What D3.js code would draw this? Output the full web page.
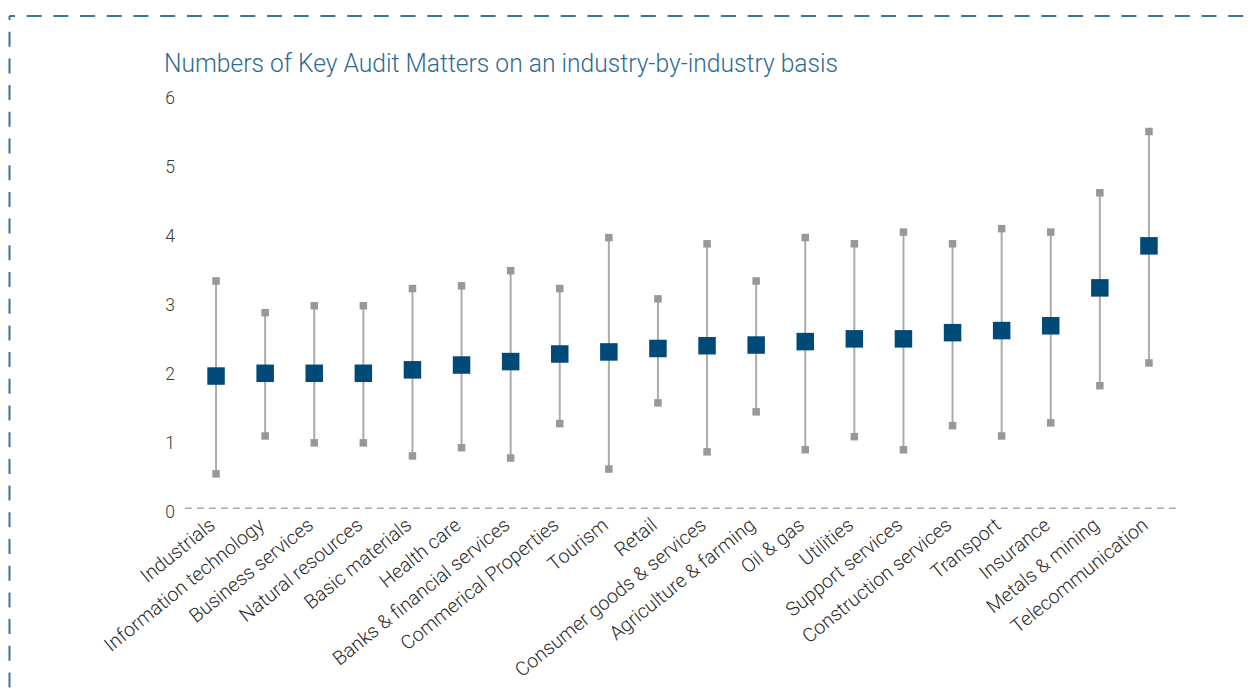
<!DOCTYPE html>
<html>
<head>
<meta charset="utf-8">
<script src="https://cdn.jsdelivr.net/npm/d3@7/dist/d3.min.js"></script>
<style>
  html, body { margin: 0; padding: 0; background: #ffffff; }
  svg { display: block; }
  text { font-family: Roboto, "Noto Sans", sans-serif; }
</style>
</head>
<body>
<svg id="chart" width="1254" height="693"></svg>
<script>
// Industries, ordered by average number of KAMs
const industries = [
  "Industrials", "Information technology", "Business services", "Natural resources",
  "Basic materials", "Health care", "Banks & financial services", "Commerical Properties",
  "Tourism", "Retail", "Consumer goods & services", "Agriculture & farming",
  "Oil & gas", "Utilities", "Support services", "Construction services",
  "Transport", "Insurance", "Metals & mining", "Telecommunication"
];
// Average number of key audit matters per report
const averageKam = [1.92, 1.96, 1.96, 1.96, 2.01, 2.08, 2.13, 2.24, 2.27, 2.32,
                    2.36, 2.37, 2.42, 2.46, 2.46, 2.55, 2.58, 2.65, 3.20, 3.81];
// Upper and lower ends of each range
const upperKam = [3.30, 2.84, 2.94, 2.94, 3.19, 3.23, 3.45, 3.19, 3.93, 3.04,
                  3.84, 3.30, 3.93, 3.84, 4.01, 3.84, 4.06, 4.01, 4.58, 5.47];
const lowerKam = [0.50, 1.05, 0.95, 0.95, 0.76, 0.88, 0.73, 1.23, 0.57, 1.53,
                  0.82, 1.40, 0.85, 1.04, 0.85, 1.20, 1.05, 1.24, 1.78, 2.11];
const yTicks = [0, 1, 2, 3, 4, 5, 6];
const titleText = "Numbers of Key Audit Matters on an industry-by-industry basis";

const rows = industries.map((name, i) => ({
  name, avg: averageKam[i], hi: upperKam[i], lo: lowerKam[i]
}));

const svg = d3.select("#chart");

// Dashed frame along the top and left edge
const frameColor = "#3f7398";
svg.append("line")
  .attr("x1", 9.5).attr("y1", 16).attr("x2", 1254).attr("y2", 16)
  .attr("stroke", frameColor).attr("stroke-width", 2)
  .attr("stroke-dasharray", "15 11.7").attr("stroke-dashoffset", 9.5);
svg.append("line")
  .attr("x1", 9.5).attr("y1", 16).attr("x2", 9.5).attr("y2", 693)
  .attr("stroke", frameColor).attr("stroke-width", 2)
  .attr("stroke-dasharray", "15 11.7").attr("stroke-dashoffset", 11);

// Title
svg.append("text")
  .attr("x", 164).attr("y", 72)
  .attr("fill", "#2f6b94")
  .attr("font-size", 25)
  .attr("font-weight", 300)
  .attr("textLength", 674)
  .attr("lengthAdjust", "spacingAndGlyphs")
  .text(titleText);

// Scales
const x = d3.scalePoint()
  .domain(industries)
  .range([191.5, 1173.5])
  .padding(0.5);
const y = d3.scaleLinear().domain([0, 6]).range([508.3, 95]);

// Y axis labels only (no axis line, no ticks)
const yAxis = d3.axisLeft(y).tickValues(yTicks).tickSize(0).tickPadding(0)
  .tickFormat(d3.format("d"));
const yg = svg.append("g").attr("transform", "translate(175,0)").call(yAxis);
yg.select(".domain").remove();
yg.selectAll("text")
  .attr("font-size", 17.5)
  .attr("font-family", "Roboto, sans-serif")
  .attr("font-weight", 300)
  .attr("fill", "#3a3a3a")
  .attr("dy", "0.5em");

// Zero baseline
svg.append("line")
  .attr("x1", 185).attr("x2", 1178)
  .attr("y1", y(0)).attr("y2", y(0))
  .attr("stroke", "#b9ab9c").attr("stroke-width", 1.5)
  .attr("stroke-dasharray", "7 5");

// Category labels on the x axis, rotated
const xAxis = d3.axisBottom(x).tickSize(0).tickPadding(0);
const xg = svg.append("g").attr("transform", `translate(0,${y(0)})`).call(xAxis);
xg.select(".domain").remove();
xg.selectAll(".tick text")
  .attr("font-size", 19.5)
  .attr("font-family", "Roboto, sans-serif")
  .attr("font-weight", 300)
  .attr("fill", "#2a2a2a")
  .attr("text-anchor", "end")
  .attr("dy", 0)
  .attr("transform", "translate(0,19) rotate(-39)");

// Range whiskers
const marks = svg.append("g");
marks.selectAll("line.range")
  .data(rows).join("line")
  .attr("class", "range")
  .attr("x1", d => x(d.name)).attr("x2", d => x(d.name))
  .attr("y1", d => y(d.hi)).attr("y2", d => y(d.lo))
  .attr("stroke", "#ababab").attr("stroke-width", 2);

const capSize = 7.5;
["hi", "lo"].forEach(key => {
  marks.selectAll(`rect.cap-${key}`)
    .data(rows).join("rect")
    .attr("class", `cap-${key}`)
    .attr("x", d => x(d.name) - capSize / 2)
    .attr("y", d => y(d[key]) - capSize / 2)
    .attr("width", capSize).attr("height", capSize)
    .attr("fill", "#98989c");
});

// Average markers
const boxSize = 17.5;
marks.selectAll("rect.avg")
  .data(rows).join("rect")
  .attr("class", "avg")
  .attr("x", d => x(d.name) - boxSize / 2)
  .attr("y", d => y(d.avg) - boxSize / 2)
  .attr("width", boxSize).attr("height", boxSize)
  .attr("fill", "#004a78");
</script>
</body>
</html>
